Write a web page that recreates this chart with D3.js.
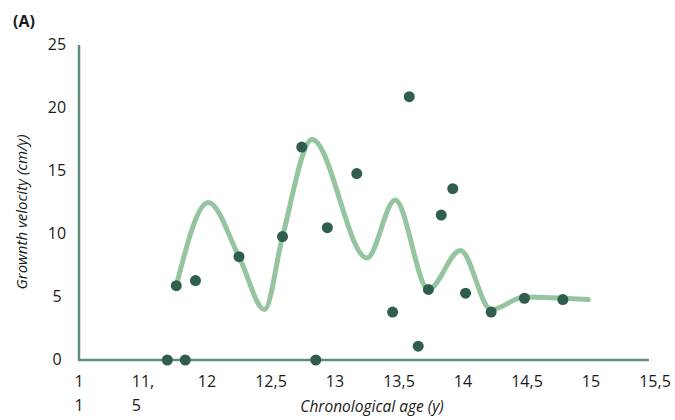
<!DOCTYPE html>
<html>
<head>
<meta charset="utf-8">
<script src="https://cdn.jsdelivr.net/npm/d3@7"></script>
<style>
  body { margin: 0; background: #fff; }
  text { font-family: "Open Sans", sans-serif; fill: #1a1a1a; }
</style>
</head>
<body>
<svg id="viz" width="675" height="420"></svg>
<script>
// measured points (age in years, growth velocity in cm/y)
let pointAge = [11.69, 11.76, 11.83, 11.91, 12.25, 12.59, 12.74, 12.85, 12.94, 13.17, 13.45, 13.58, 13.65, 13.73, 13.83, 13.92, 14.02, 14.22, 14.48, 14.78]
let pointVel = [0, 5.9, 0, 6.3, 8.2, 9.8, 16.9, 0, 10.5, 14.8, 3.8, 20.9, 1.1, 5.6, 11.5, 13.6, 5.3, 3.8, 4.9, 4.8]

// smoothed trend line
let lineAge = [11.76, 12.01, 12.25, 12.45, 12.59, 12.82, 13.25, 13.47, 13.73, 13.98, 14.22, 14.48, 14.98]
let lineVel = [5.9, 12.5, 8.2, 4.0, 9.8, 17.5, 8.1, 12.7, 5.6, 8.7, 4.0, 5.0, 4.8]

let xTicks = [11, 11.5, 12, 12.5, 13, 13.5, 14, 14.5, 15, 15.5]
let xTickLabels = [['1', '1'], ['11,', '5'], ['12'], ['12,5'], ['13'], ['13,5'], ['14'], ['14,5'], ['15'], ['15,5']]
let yTicks = [0, 5, 10, 15, 20, 25]

const svg = d3.select('#viz')

const x = d3.scaleLinear().domain([11, 15.5]).range([79, 655])
const y = d3.scaleLinear().domain([0, 25]).range([360, 45])

const axisColor = '#5e8d7e'

// axes lines
svg.append('line')
  .attr('x1', x(11)).attr('x2', x(11))
  .attr('y1', y(25)).attr('y2', y(0))
  .attr('stroke', axisColor).attr('stroke-width', 2.5)

svg.append('line')
  .attr('x1', x(11) - 1).attr('x2', 649)
  .attr('y1', y(0)).attr('y2', y(0))
  .attr('stroke', axisColor).attr('stroke-width', 2.5)

// y tick labels
svg.selectAll('.ylab')
  .data(yTicks)
  .enter()
  .append('text')
  .attr('class', 'ylab')
  .attr('x', 57)
  .attr('y', d => y(d) + 5)
  .attr('text-anchor', 'middle')
  .style('font-size', '16px')
  .text(d => d)

// x tick labels (some wrap onto two lines)
let xl = svg.selectAll('.xlab')
  .data(xTicks)
  .enter()
  .append('text')
  .attr('class', 'xlab')
  .style('font-size', '16px')

xl.each(function (d, i) {
  let t = d3.select(this)
  let lines = xTickLabels[i]
  if (lines.length == 1) {
    t.attr('x', x(d)).attr('y', 387).attr('text-anchor', 'middle').text(lines[0])
  } else {
    let first = t.append('tspan').text(lines[0])
    let w = first.node().getComputedTextLength()
    let left = x(d) - w / 2
    first.attr('x', left).attr('y', 387)
    t.append('tspan').attr('x', left).attr('y', 411).text(lines[1])
  }
})

// axis titles
svg.append('text')
  .attr('transform', 'translate(27,212) rotate(-90)')
  .attr('text-anchor', 'middle')
  .style('font-size', '15px')
  .style('font-style', 'italic')
  .text('Grownth velocity (cm/y)')

svg.append('text')
  .attr('x', 372)
  .attr('y', 412)
  .attr('text-anchor', 'middle')
  .style('font-size', '15.5px')
  .style('font-style', 'italic')
  .text('Chronological age (y)')

svg.append('text')
  .attr('x', 13)
  .attr('y', 27)
  .style('font-size', '16px')
  .style('font-weight', 'bold')
  .text('(A)')

// trend line
let lineData = lineAge.map((a, i) => [a, lineVel[i]])
let line = d3.line()
  .x(d => x(d[0]))
  .y(d => y(d[1]))
  .curve(d3.curveMonotoneX)

svg.append('path')
  .datum(lineData)
  .attr('d', line)
  .attr('fill', 'none')
  .attr('stroke', '#94c59f')
  .attr('stroke-width', 5)
  .attr('stroke-linecap', 'round')

// points
let pts = pointAge.map((a, i) => [a, pointVel[i]])
svg.selectAll('circle.pt')
  .data(pts)
  .enter()
  .append('circle')
  .attr('class', 'pt')
  .attr('cx', d => x(d[0]))
  .attr('cy', d => y(d[1]))
  .attr('r', 5.5)
  .style('fill', '#2f5e4f')
</script>
</body>
</html>
